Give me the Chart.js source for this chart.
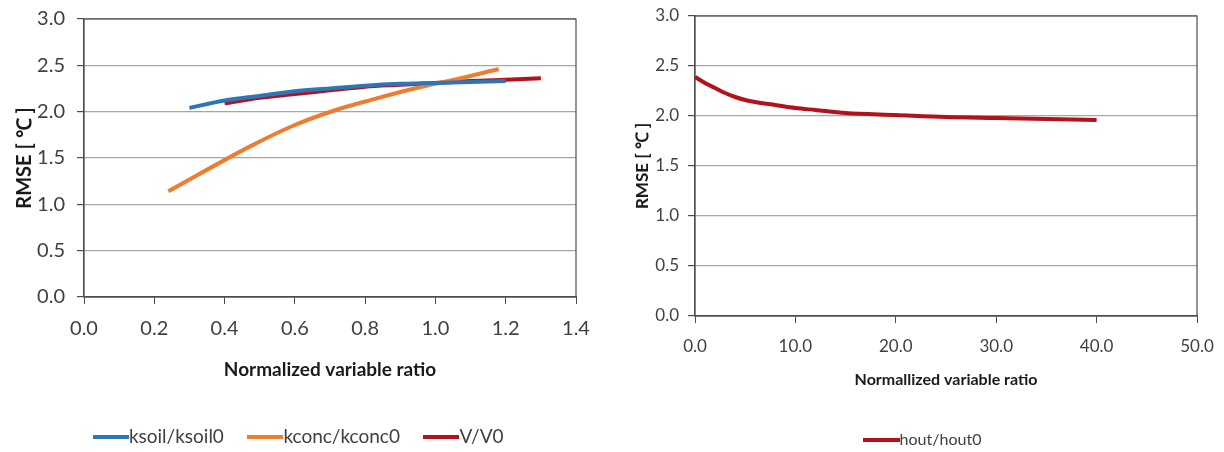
<!DOCTYPE html>
<html>
<head>
<meta charset="utf-8">
<script src="https://cdn.jsdelivr.net/npm/chart.js@4"></script>
<style>
  body { margin: 0; background: #fff; }
  #left { position: absolute; left: 0; top: 0; }
  #right { position: absolute; left: 620px; top: 0; }
</style>
</head>
<body>
<canvas id="left" width="600" height="452"></canvas>
<canvas id="right" width="604" height="452"></canvas>
<script>
// left chart data
const ksoilX = [0.3, 0.4, 0.5, 0.6, 0.7, 0.8, 0.9, 1.0, 1.1, 1.2];
const ksoilY = [2.04, 2.12, 2.17, 2.22, 2.25, 2.28, 2.30, 2.31, 2.32, 2.33];
const kconcX = [0.24, 0.47, 0.59, 0.71, 0.82, 0.94, 1.06, 1.18];
const kconcY = [1.14, 1.62, 1.84, 2.01, 2.13, 2.25, 2.35, 2.46];
const vX = [0.4, 0.5, 0.6, 0.7, 0.8, 0.9, 1.0, 1.1, 1.2, 1.3];
const vY = [2.09, 2.15, 2.19, 2.23, 2.27, 2.29, 2.31, 2.33, 2.345, 2.36];

// right chart data
const houtX = [0, 1, 2, 3, 4, 5, 6, 8, 10, 12, 15, 20, 25, 30, 35, 40];
const houtY = [2.39, 2.33, 2.28, 2.23, 2.19, 2.16, 2.14, 2.11, 2.08, 2.06, 2.03, 2.01, 1.99, 1.98, 1.97, 1.96];

const FONT = "Lato, 'Open Sans', sans-serif";
const GRID = '#a6a6a6';
const AXIS = '#4d4d4d';
const TEXT = '#404040';

function points(xs, ys) {
	return xs.map((x, i) => ({ x: x, y: ys[i] }));
}

// legend swatch: a short line that touches the label text
function swatch(color, len) {
	const c = document.createElement('canvas');
	c.width = len;
	c.height = 4;
	const ctx = c.getContext('2d');
	ctx.fillStyle = color;
	ctx.fillRect(0, 0, len, 4);
	return c;
}

function series(label, xs, ys, color, len) {
	return {
		label: label,
		data: points(xs, ys),
		borderColor: color,
		backgroundColor: color,
		borderWidth: 4,
		pointRadius: 0,
		pointStyle: swatch(color, len),
		cubicInterpolationMode: 'monotone',
		fill: false
	};
}

// dark frame round the plot area (top and right sides)
const frame = {
	id: 'frame',
	beforeDatasetsDraw(chart) {
		const a = chart.chartArea;
		const ctx = chart.ctx;
		ctx.save();
		ctx.strokeStyle = AXIS;
		ctx.lineWidth = 1.2;
		ctx.strokeRect(a.left, a.top, a.right - a.left, a.bottom - a.top);
		ctx.restore();
	}
};

function makeChart(el, s) {
	return new Chart(document.getElementById(el), {
		type: 'line',
		data: { datasets: s.datasets },
		options: {
			responsive: false,
			animation: false,
			devicePixelRatio: 1,
			layout: { padding: s.padding },
			plugins: {
				tooltip: { enabled: false },
				legend: {
					position: 'bottom',
					maxHeight: s.legendHeight,
					labels: {
						usePointStyle: true,
						pointStyleWidth: s.lineLen - s.legendSize,
						padding: s.legendPad,
						color: TEXT,
						font: { family: FONT, size: s.legendSize }
					}
				}
			},
			scales: {
				x: {
					type: 'linear',
					min: 0,
					max: s.xMax,
					afterFit: sc => {
						sc.height = s.xHeight;
						sc.paddingRight = s.rightGap;
					},
					ticks: {
						stepSize: s.xStep,
						padding: s.xTickPad,
						color: TEXT,
						font: { family: FONT, size: s.tickSize },
						callback: v => v.toFixed(1)
					},
					grid: { drawOnChartArea: false, drawTicks: true, tickLength: s.tickLen, tickColor: AXIS },
					border: { color: AXIS, width: 1.2 },
					title: {
						display: true,
						text: s.xTitle,
						color: '#1a1a1a',
						padding: { top: 0, bottom: s.xTitlePad },
						font: { family: FONT, size: s.xTitleSize, weight: 'bold' }
					}
				},
				y: {
					min: 0,
					max: 3,
					afterFit: sc => {
						sc.width = s.yWidth;
						sc.paddingTop = 0;
						sc.paddingBottom = 0;
					},
					ticks: {
						stepSize: 0.5,
						padding: s.yTickPad,
						color: TEXT,
						font: { family: FONT, size: s.tickSize },
						callback: v => v.toFixed(1)
					},
					grid: { color: GRID, lineWidth: 1.2, tickLength: s.tickLen, tickColor: AXIS },
					border: { color: AXIS, width: 1.2 },
					title: {
						display: true,
						text: 'RMSE [ ℃ ]',
						color: '#1a1a1a',
						padding: { top: 0, bottom: 4 },
						font: { family: FONT, size: s.yTitleSize, weight: 'bold' }
					}
				}
			}
		},
		plugins: [frame]
	});
}

makeChart('left', {
	datasets: [
		series('ksoil/ksoil0', ksoilX, ksoilY, '#2e75b6', 36),
		series('kconc/kconc0', kconcX, kconcY, '#ed7d31', 36),
		series('V/V0', vX, vY, '#b4121b', 36)
	],
	padding: { left: 13, right: 7, top: 19, bottom: 0 },
	rightGap: 24,
	legendHeight: 58,
	legendPad: 33,
	legendSize: 19,
	lineLen: 36,
	xMax: 1.4,
	xStep: 0.2,
	xHeight: 97,
	xTickPad: 13,
	tickLen: 7,
	tickSize: 20,
	xTitle: 'Normalized variable ratio',
	xTitlePad: 13,
	xTitleSize: 19,
	yWidth: 71,
	yTickPad: 12,
	yTitleSize: 20
});

makeChart('right', {
	datasets: [
		series('hout/hout0', houtX, houtY, '#b4121b', 37)
	],
	padding: { left: 12, right: 4, top: 16, bottom: 0 },
	rightGap: 27,
	legendHeight: 30,
	legendPad: 10,
	legendSize: 16,
	lineLen: 37,
	xMax: 50,
	xStep: 10,
	xHeight: 106,
	xTickPad: 13,
	tickLen: 7,
	tickSize: 17,
	xTitle: 'Normallized variable ratio',
	xTitlePad: 33,
	xTitleSize: 16,
	yWidth: 63,
	yTickPad: 9,
	yTitleSize: 17
});
</script>
</body>
</html>
